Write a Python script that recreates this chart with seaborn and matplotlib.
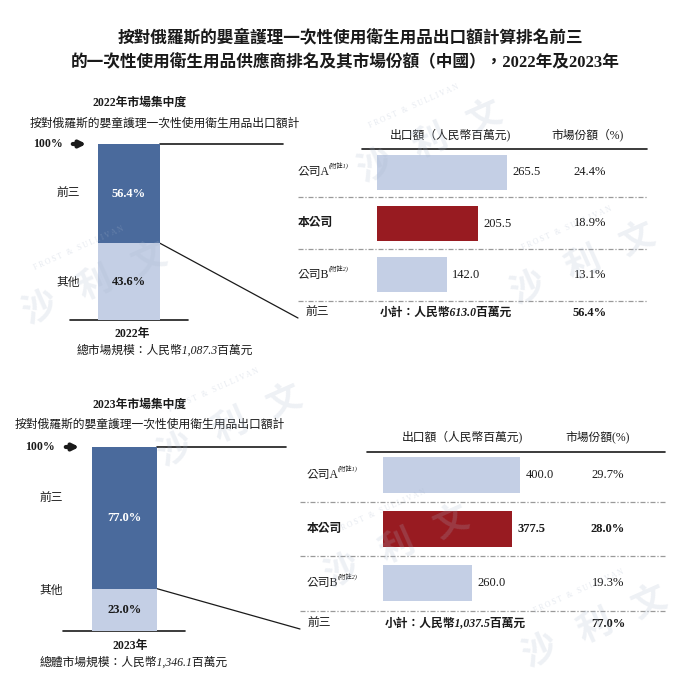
import numpy as np
import pandas as pd
import seaborn as sns
import matplotlib.pyplot as plt

# chart data
years = ["2022", "2023"]
top3_share = [56.4, 77.0]
other_share = [43.6, 23.0]
market_size = ["1,087.3", "1,346.1"]
size_label = ["總市場規模", "總體市場規模"]
companies = ["公司A", "本公司", "公司B"]
notes = ["(附註1)", "", "(附註2)"]
export_values = [[265.5, 205.5, 142.0], [400.0, 377.5, 260.0]]
share_values = [[24.4, 18.9, 13.1], [29.7, 28.0, 19.3]]
subtotal = ["613.0", "1,037.5"]
share_header = ["市場份額（%)", "市場份額(%)"]

W, H = 699, 682
DARK = "#4a6a9c"
LIGHT = "#c4cfe5"
RED = "#981b21"
INK = "#1a1a1a"
DASH = (0, (4, 1.5, 1, 1.5))

sns.set_theme(style="white")
plt.rcParams["font.family"] = ["Liberation Serif", "Noto Sans CJK TC"]

fig = plt.figure(figsize=(W / 100, H / 100), dpi=100)
bg = fig.add_axes([0, 0, 1, 1])
bg.set_xlim(0, W)
bg.set_ylim(H, 0)
bg.axis("off")


def box(x0, y0, x1, y1):
    return [x0 / W, 1 - y1 / H, (x1 - x0) / W, (y1 - y0) / H]


# pixel layout of the two panels
layout = [
    dict(head=(140, 103), sub=(165, 124), bar=(98, 144, 160, 320), lab_x=68, lab_y=(194, 283),
         base=(70, 188), top_end=283, arrow=(70, 89), pct_x=33, year=(132, 334), size=(165, 351),
         tx0=298, tx1=647, hdr_y=135, hline=(362, 647, 149), h1x=450, h2x=587,
         rows=[172, 223, 275], sum_y=313, seps=[197, 249, 301], hb_x=377, scale=0.4896,
         share_x=590, sum_x=380, lx=298, top_lx=305, bold_vals=False),
    dict(head=(140, 405), sub=(150, 425), bar=(92, 447, 157, 631), lab_x=51, lab_y=(499, 591),
         base=(63, 185), top_end=286, arrow=(63, 82), pct_x=25, year=(130, 646), size=(134, 663),
         tx0=300, tx1=665, hdr_y=437, hline=(367, 665, 452), h1x=462, h2x=598,
         rows=[475, 529, 583], sum_y=624, seps=[502, 556, 611], hb_x=383, scale=0.3425,
         share_x=608, sum_x=385, lx=307, top_lx=307, bold_vals=True),
]

# title
bg.text(350, 38, "按對俄羅斯的嬰童護理一次性使用衛生用品出口額計算排名前三",
        ha="center", va="center", fontsize=12, fontweight="bold", color=INK)
bg.text(345, 63, "的一次性使用衛生用品供應商排名及其市場份額（中國），2022年及2023年",
        ha="center", va="center", fontsize=12, fontweight="bold", color=INK)

for i, L in enumerate(layout):
    x0, y0, x1, y1 = L["bar"]
    bg.text(*L["head"], f"{years[i]}年市場集中度", ha="center", va="center",
            fontsize=8.5, fontweight="bold", color=INK)
    bg.text(*L["sub"], "按對俄羅斯的嬰童護理一次性使用衛生用品出口額計", ha="center",
            va="center", fontsize=8.5, style="italic", color=INK)

    # stacked share bar
    ax = fig.add_axes(box(x0, y0, x1, y1))
    sns.barplot(x=[years[i]], y=[top3_share[i] + other_share[i]], color=DARK,
                width=1, saturation=1, linewidth=0, ax=ax)
    sns.barplot(x=[years[i]], y=[other_share[i]], color=LIGHT, width=1,
                saturation=1, linewidth=0, ax=ax)
    ax.set_xlim(-0.5, 0.5)
    ax.set_ylim(0, top3_share[i] + other_share[i])
    ax.axis("off")
    ax.text(0, other_share[i] + top3_share[i] / 2, f"{top3_share[i]:.1f}%", ha="center",
            va="center", color="white", fontsize=9, fontweight="bold")
    ax.text(0, other_share[i] / 2, f"{other_share[i]:.1f}%", ha="center",
            va="center", color=INK, fontsize=9, fontweight="bold")

    bg.text(L["pct_x"], y0, "100%", ha="left", va="center", fontsize=8.5,
            fontweight="bold", color=INK)
    bg.annotate("", xy=(L["arrow"][1], y0), xytext=(L["arrow"][0], y0),
                arrowprops=dict(arrowstyle="-|>", lw=3, color=INK, mutation_scale=9))
    bg.text(L["lab_x"], L["lab_y"][0], "前三", ha="center", va="center", fontsize=8.5, color=INK)
    bg.text(L["lab_x"], L["lab_y"][1], "其他", ha="center", va="center", fontsize=8.5, color=INK)
    bg.plot(L["base"], [y1, y1], color=INK, lw=1.2)
    bg.plot([x1, L["top_end"]], [y0, y0], color=INK, lw=1.2)
    split_y = y0 + top3_share[i] / 100 * (y1 - y0)
    bg.plot([x1, L["tx0"]], [split_y, L["sum_y"] + 5], color=INK, lw=0.9)
    bg.text(*L["year"], f"{years[i]}年", ha="center", va="center", fontsize=8.5,
            fontweight="bold", color=INK)
    bg.text(*L["size"], f"{size_label[i]}：人民幣{market_size[i]}百萬元", ha="center",
            va="center", fontsize=8.5, style="italic", color=INK)

    # supplier table
    bg.text(L["h1x"], L["hdr_y"], "出口額（人民幣百萬元)", ha="center", va="center",
            fontsize=8.5, color=INK)
    bg.text(L["h2x"], L["hdr_y"], share_header[i], ha="center", va="center",
            fontsize=8.5, color=INK)
    hx0, hx1, hy = L["hline"]
    bg.plot([hx0, hx1], [hy, hy], color=INK, lw=1.2)
    for sy in L["seps"]:
        bg.plot([L["tx0"], L["tx1"]], [sy, sy], color="#9a9a9a", lw=0.9, linestyle=DASH)

    rows = L["rows"]
    step = rows[1] - rows[0]
    hb = fig.add_axes(box(L["hb_x"], rows[0] - step / 2, L["hb_x"] + 300, rows[2] + step / 2))
    vals = export_values[i]
    sns.barplot(x=vals, y=companies, hue=companies, palette=[LIGHT, RED, LIGHT],
                orient="h", width=0.68, saturation=1, linewidth=0, legend=False, ax=hb)
    hb.set_xlim(0, 300 / L["scale"])
    hb.set_ylim(2.5, -0.5)
    hb.axis("off")
    for j, c in enumerate(hb.containers):
        bold = "bold" if (L["bold_vals"] and j == 1) else "normal"
        hb.bar_label(c, labels=[f"{vals[j]:.1f}"], padding=4, fontsize=9,
                     fontweight=bold, color=INK)

    for j, name in enumerate(companies):
        w = "bold" if j == 1 else "normal"
        bg.text(L["lx"], rows[j], name, ha="left", va="center", fontsize=8.5,
                fontweight=w, color=INK)
        if notes[j]:
            bg.text(L["lx"] + 31, rows[j] - 6, notes[j], ha="left", va="center",
                    fontsize=4.5, style="italic", color=INK)
        bold = "bold" if (L["bold_vals"] and j == 1) else "normal"
        bg.text(L["share_x"], rows[j], f"{share_values[i][j]:.1f}%", ha="center",
                va="center", fontsize=9, fontweight=bold, color=INK)

    bg.text(L["top_lx"], L["sum_y"], "前三", ha="left", va="center", fontsize=8.5, color=INK)
    bg.text(L["sum_x"], L["sum_y"], f"小計：人民幣{subtotal[i]}百萬元", ha="left",
            va="center", fontsize=8.5, fontweight="bold", style="italic", color=INK)
    bg.text(L["share_x"], L["sum_y"], f"{top3_share[i]:.1f}%", ha="center", va="center",
            fontsize=9, fontweight="bold", color=INK)

# faint watermark stamps on top of everything
wm = fig.add_axes([0, 0, 1, 1])
wm.set_xlim(0, W)
wm.set_ylim(H, 0)
wm.axis("off")
ang = 24
s, c_ = np.sin(np.radians(ang)), np.cos(np.radians(ang))
d = np.array([c_, -s])
up = np.array([-s, -c_])
for cx, cy in [(95, 285), (430, 143), (583, 265), (230, 427), (397, 548), (595, 628)]:
    ctr = np.array([cx, cy])
    for k, ch in zip([-1, 0, 1], "沙利文"):
        p = ctr + k * 60 * d
        wm.text(p[0], p[1], ch, ha="center", va="center", fontsize=25, fontweight="bold",
                rotation=ang, color="#aab8cc", alpha=0.2)
    q = ctr + 40 * up
    wm.text(q[0], q[1], "F R O S T   &   S U L L I V A N", ha="center", va="center",
            fontsize=5.5, rotation=ang, color="#aab8cc", alpha=0.3)

fig.savefig("out.png", dpi=100)
